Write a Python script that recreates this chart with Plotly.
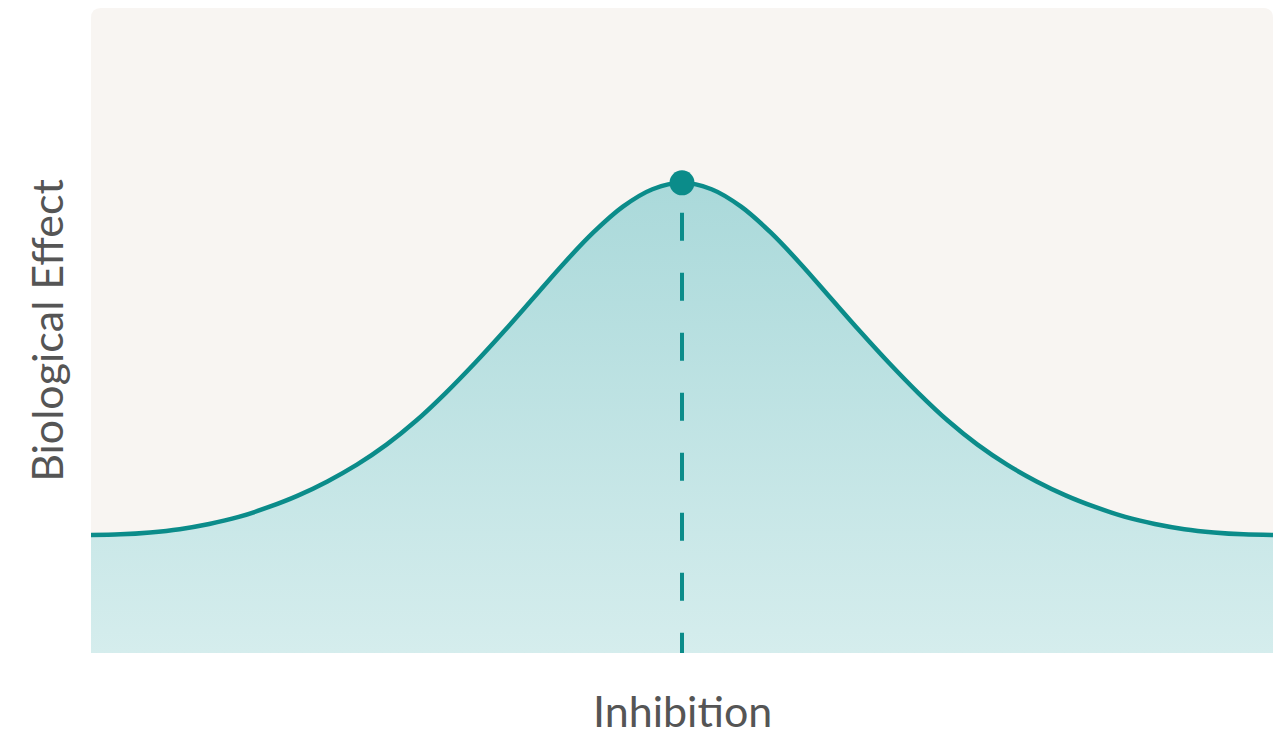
import plotly.graph_objects as go

# inhibition level (arbitrary units) and the biological effect
inhibition = [0, 2.5, 5, 7.5, 10, 12.5, 15, 17.5, 20, 22.5, 25, 27.5, 30, 32.5, 35, 37.5, 40,
              42.5, 45, 47.5, 50, 52.5, 55, 57.5, 60, 62.5, 65, 67.5, 70, 72.5, 75, 77.5,
              80, 82.5, 85, 87.5, 90, 92.5, 95, 97.5, 100]
effect = [18.3, 18.4, 18.7, 19.2, 20.0, 21.1, 22.6, 24.4, 26.6, 29.2, 32.3, 36.0, 40.3,
          45.0, 50.0, 55.2, 60.4, 65.2, 69.2, 71.9, 72.9, 71.9, 69.2, 65.2, 60.4, 55.2,
          50.0, 45.0, 40.3, 36.0, 32.3, 29.2, 26.6, 24.4, 22.6, 21.1, 20.0, 19.2, 18.7,
          18.4, 18.3]

peak_x = [50]
peak_y = [72.9]

TEAL = "#0b8c8a"
BG = "#f8f5f2"
TEXT = "#555555"

fig = go.Figure()

fig.add_trace(go.Scatter(
    x=inhibition, y=effect, mode="lines",
    line=dict(color=TEAL, width=4.5, shape="spline", smoothing=1.0),
    fill="tozeroy",
    fillgradient=dict(type="vertical", colorscale=[[0, "#d5eded"], [1, "#aad9da"]]),
    hoverinfo="skip",
))

# dashed drop line from the peak to the axis
fig.add_trace(go.Scatter(
    x=peak_x * 2, y=[peak_y[0], 0], mode="lines",
    line=dict(color=TEAL, width=4, dash="0px,30px,28px,2px"),
    hoverinfo="skip",
))

fig.add_trace(go.Scatter(
    x=peak_x, y=peak_y, mode="markers",
    marker=dict(color=TEAL, size=25),
    hoverinfo="skip",
))

# plot background with rounded top corners
rx, ry = 10 / 1182, 10 / 645
fig.add_shape(
    type="path", xref="paper", yref="paper", layer="below",
    path=f"M 0,0 L 0,{1 - ry} Q 0,1 {rx},1 L {1 - rx},1 Q 1,1 1,{1 - ry} L 1,0 Z",
    fillcolor=BG, line_width=0,
)

# x title sits low in the bottom margin, so place it as an annotation
fig.add_annotation(
    text="Inhibition", xref="paper", yref="paper", x=0.5, y=0,
    xanchor="center", yanchor="top", yshift=-30, showarrow=False,
    font=dict(size=43, color=TEXT),
)

fig.update_layout(
    width=1273, height=739,
    margin=dict(l=91, r=0, t=8, b=86),
    paper_bgcolor="white",
    plot_bgcolor="rgba(0,0,0,0)",
    showlegend=False,
    font=dict(family="Lato", color=TEXT),
    xaxis=dict(
        range=[0, 100], showgrid=False, zeroline=False, showticklabels=False,
        showline=False, ticks="", automargin=False,
    ),
    yaxis=dict(
        range=[0, 100], showgrid=False, zeroline=False, showticklabels=False,
        showline=False, ticks="", automargin=False,
        title=dict(text="Biological Effect", font=dict(size=43, color=TEXT), standoff=12),
    ),
)

# drop the default page margin so the figure sits flush in the window
fig.write_html("out.html", config={"displayModeBar": False},
               post_script="document.body.style.margin='0';")
